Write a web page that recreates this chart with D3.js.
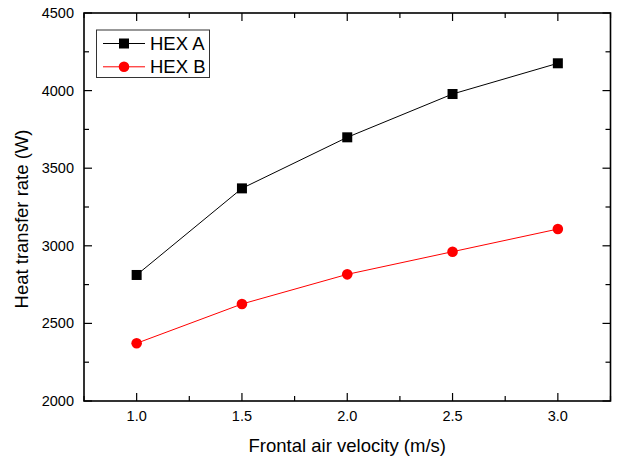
<!DOCTYPE html>
<html>
<head>
<meta charset="utf-8">
<script src="https://cdn.jsdelivr.net/npm/d3@7"></script>
<style>
  body { margin: 0; background: #fff; }
  text { font-family: Arial, "Liberation Sans", sans-serif; fill: #000; }
</style>
</head>
<body>
<script>
// Data
let velocity = [1.0, 1.5, 2.0, 2.5, 3.0];
let hexA = [2812, 3370, 3699, 3978, 4176];
let hexB = [2372, 2625, 2816, 2962, 3108];
let seriesNames = ["HEX A", "HEX B"];
let xTicks = [1.0, 1.5, 2.0, 2.5, 3.0];
let yTicks = [2000, 2500, 3000, 3500, 4000, 4500];

let W = 623, H = 457;
// plot box edges
let pLeft = 84, pRight = 610.5, pTop = 13, pBottom = 401;

let svg = d3.select("body").append("svg")
            .attr("width", W)
            .attr("height", H);

let x = d3.scaleLinear().domain([0.75, 3.25]).range([pLeft, pRight]);
let y = d3.scaleLinear().domain([2000, 4500]).range([pBottom, pTop]);

let xMinor = d3.range(0.75, 3.26, 0.25);
let yMinor = d3.range(2000, 4501, 250);

// ticks (inward) on all four sides
let g = svg.append("g").attr("stroke", "#000").attr("stroke-width", 1.2);
xMinor.forEach(v => {
    let major = xTicks.some(t => Math.abs(t - v) < 1e-6);
    let len = major ? 8 : 5;
    g.append("line").attr("x1", x(v)).attr("x2", x(v)).attr("y1", pBottom).attr("y2", pBottom - len);
    g.append("line").attr("x1", x(v)).attr("x2", x(v)).attr("y1", pTop).attr("y2", pTop + len);
});
yMinor.forEach(v => {
    let major = yTicks.includes(v);
    let len = major ? 8 : 5;
    g.append("line").attr("y1", y(v)).attr("y2", y(v)).attr("x1", pLeft).attr("x2", pLeft + len);
    g.append("line").attr("y1", y(v)).attr("y2", y(v)).attr("x1", pRight).attr("x2", pRight - len);
});

// frame
svg.append("rect")
    .attr("x", pLeft).attr("y", pTop)
    .attr("width", pRight - pLeft).attr("height", pBottom - pTop)
    .attr("fill", "none").attr("stroke", "#000").attr("stroke-width", 1.6);

// tick labels
svg.append("g").selectAll("text")
    .data(xTicks).enter().append("text")
    .attr("x", d => x(d))
    .attr("y", pBottom + 20)
    .attr("text-anchor", "middle")
    .attr("font-size", 14.5)
    .text(d => d.toFixed(1));

svg.append("g").selectAll("text")
    .data(yTicks).enter().append("text")
    .attr("x", pLeft - 10)
    .attr("y", d => y(d) + 5)
    .attr("text-anchor", "end")
    .attr("font-size", 14.5)
    .text(d => d);

// axis titles
svg.append("text")
    .attr("x", (pLeft + pRight) / 2)
    .attr("y", 451.5)
    .attr("text-anchor", "middle")
    .attr("font-size", 18.5)
    .text("Frontal air velocity (m/s)");

svg.append("text")
    .attr("transform", "translate(28,219) rotate(-90)")
    .attr("text-anchor", "middle")
    .attr("font-size", 18.5)
    .text("Heat transfer rate (W)");

// series
let line = d3.line().x((d, i) => x(velocity[i])).y(d => y(d));

svg.append("path").datum(hexA)
    .attr("d", line).attr("fill", "none").attr("stroke", "#000").attr("stroke-width", 1);
svg.append("path").datum(hexB)
    .attr("d", line).attr("fill", "none").attr("stroke", "#ff0000").attr("stroke-width", 1);

svg.append("g").selectAll("rect")
    .data(hexA).enter().append("rect")
    .attr("x", (d, i) => x(velocity[i]) - 5)
    .attr("y", d => y(d) - 5)
    .attr("width", 10).attr("height", 10)
    .attr("fill", "#000");

svg.append("g").selectAll("circle")
    .data(hexB).enter().append("circle")
    .attr("cx", (d, i) => x(velocity[i]))
    .attr("cy", d => y(d))
    .attr("r", 5.3)
    .attr("fill", "#ff0000");

// legend
let legend = svg.append("g");
legend.append("rect")
    .attr("x", 96.5).attr("y", 30)
    .attr("width", 113).attr("height", 47.5)
    .attr("fill", "#fff").attr("stroke", "#333").attr("stroke-width", 1);

seriesNames.forEach((name, i) => {
    let ly = 43.5 + i * 23.3;
    legend.append("line")
        .attr("x1", 103).attr("x2", 145).attr("y1", ly).attr("y2", ly)
        .attr("stroke", i === 0 ? "#000" : "#ff0000").attr("stroke-width", 1);
    if (i === 0) {
        legend.append("rect").attr("x", 119).attr("y", ly - 5).attr("width", 10).attr("height", 10).attr("fill", "#000");
    } else {
        legend.append("circle").attr("cx", 124).attr("cy", ly).attr("r", 5.3).attr("fill", "#ff0000");
    }
    legend.append("text")
        .attr("x", 150).attr("y", ly + 6.5)
        .attr("font-size", 18.5)
        .text(name);
});
</script>
</body>
</html>
